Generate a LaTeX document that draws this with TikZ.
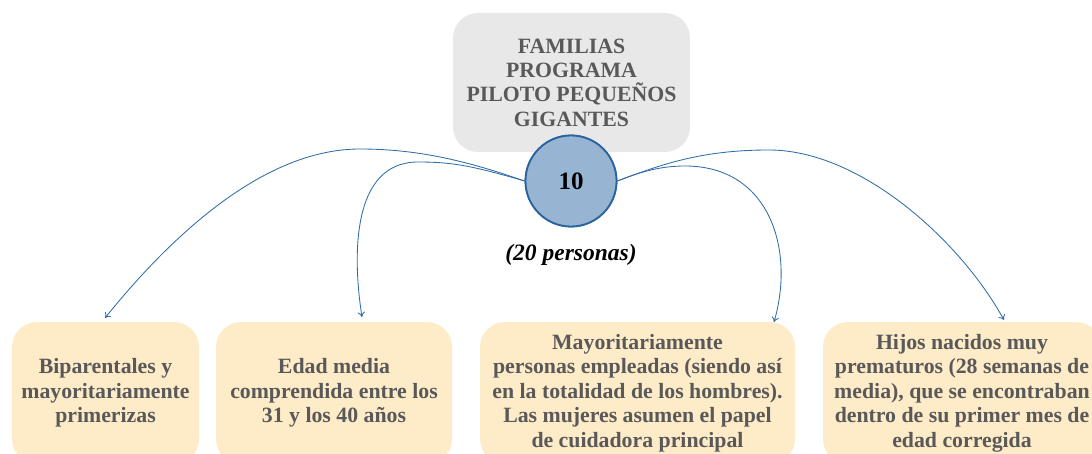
\documentclass[tikz,border=0pt]{standalone}
\usepackage{fontspec}
\setmainfont{Liberation Serif}
\usetikzlibrary{arrows.meta}
\definecolor{txtgray}{HTML}{595959}
\definecolor{graybox}{HTML}{E8E8E8}
\definecolor{orangebox}{HTML}{FEEBC8}
\definecolor{circfill}{HTML}{97B5D3}
\definecolor{circline}{HTML}{2A649E}
\definecolor{arrowblue}{HTML}{2E6DA8}
\tikzset{
  titlebox/.style={draw=none, fill=graybox, rounded corners=25pt, minimum width=237pt, minimum height=139pt,
    align=center, text=txtgray, font=\fontsize{21.8}{24.3}\selectfont\bfseries, inner sep=0pt},
  infobox/.style={draw=none, fill=orangebox, rounded corners=25pt, minimum height=142pt,
    align=center, text=txtgray, font=\fontsize{21.8}{24.5}\selectfont\bfseries, inner sep=0pt},
  bubble/.style={circle, draw=circline, line width=1.8pt, fill=circfill, minimum size=91pt, inner sep=0pt,
    font=\fontsize{25}{28}\selectfont\bfseries},
  conn/.style={draw=arrowblue, line width=0.85pt, -{To[length=5pt,width=7.5pt]}},
  note/.style={font=\fontsize{23.5}{26}\selectfont\bfseries\itshape}
}
\begin{document}
\begin{tikzpicture}[x=1pt,y=-1pt]
\useasboundingbox (0,0) rectangle (1092,454);
\clip (0,0) rectangle (1092,454);
\node[titlebox] (title) at (571.5,82.5) {FAMILIAS\\PROGRAMA\\PILOTO PEQUEÑOS\\GIGANTES};
\node[infobox, minimum width=187pt] (b1) at (105.5,393) {Biparentales y\\mayoritariamente\\primerizas};
\node[infobox, minimum width=236pt] (b2) at (334,393) {Edad media\\comprendida entre los\\31 y los 40 años};
\node[infobox, minimum width=315pt] (b3) at (637.5,393) {Mayoritariamente\\personas empleadas (siendo así\\en la totalidad de los hombres).\\Las mujeres asumen el papel\\de cuidadora principal};
\node[infobox, minimum width=278pt] (b4) at (962,393) {Hijos nacidos muy\\prematuros (28 semanas de\\media), que se encontraban\\dentro de su primer mes de\\edad corregida};
\node[note] (n) at (571,255) {(20 personas)};
\coordinate (e1) at (105,318);
\coordinate (e2) at (362,317);
\coordinate (e3) at (774,322);
\coordinate (e4) at (1004,320);
\node[bubble] (c) at (571,181) {10};
\draw[conn] (c.west) .. controls (470,162) and (420,149) .. (360,149) .. controls (270,149) and (180,225) .. (e1);
\draw[conn] (c.west) .. controls (470,165) and (450,162) .. (418,162) .. controls (350,162) and (353,260) .. (e2);
\draw[conn] (c.east) .. controls (640,172) and (660,166) .. (685,166) .. controls (770,166) and (795,250) .. (e3);
\draw[conn] (c.east) .. controls (660,165) and (700,150) .. (769,150) .. controls (860,150) and (960,240) .. (e4);
\node[bubble] at (c) {10};
\end{tikzpicture}
\end{document}
